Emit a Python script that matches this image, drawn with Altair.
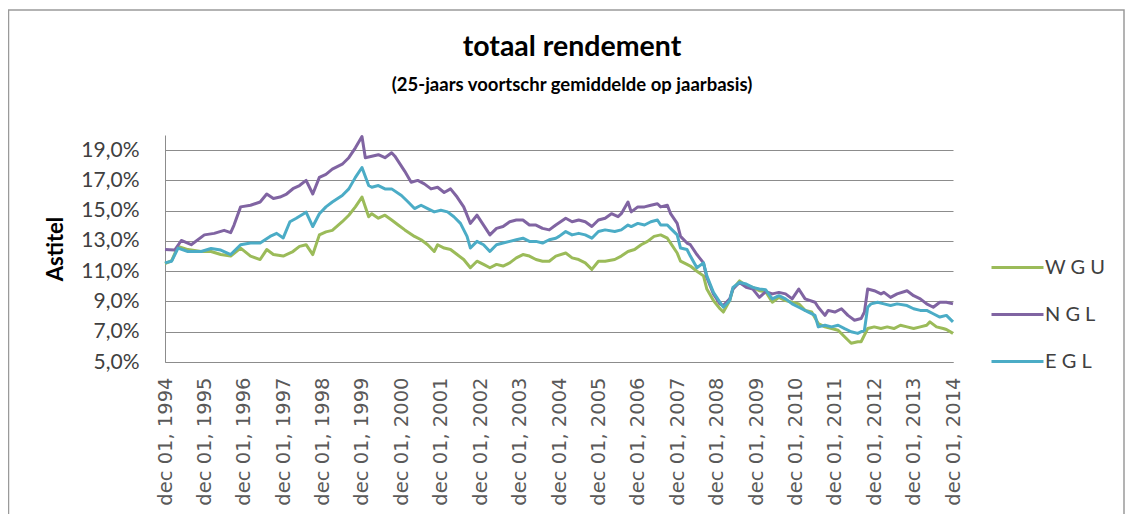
import altair as alt
import pandas as pd

# month offsets from dec 1994, values in %
wgu_month = [0, 2, 4, 7, 11, 14, 17, 20, 23, 26, 29, 31, 33, 36, 39, 41, 43, 45, 47, 49, 51, 54, 56, 58, 60, 62,
             63, 65, 67, 69, 71, 73, 76, 78, 80, 82, 83, 85, 87, 89, 91, 93, 95, 97, 99, 101, 103, 105, 107, 109,
             111, 113, 115, 117, 119, 122, 124, 126, 128, 130, 132, 134, 137, 139, 141, 143, 145, 147, 149, 151,
             153, 154, 156, 157, 159, 160, 162, 164, 165, 167, 169, 170, 172, 173, 175, 177, 179, 181, 183, 185,
             187, 189, 191, 193, 195, 197, 199, 201, 203, 205, 207, 209, 211, 212, 214, 216, 218, 220, 222, 224,
             226, 228, 230, 232, 233, 235, 237, 238, 240]
wgu_value = [11.5, 11.7, 12.64, 12.43, 12.3, 12.3, 12.1, 12.0, 12.53, 12.0, 11.77, 12.43, 12.1, 12.0, 12.3, 12.64,
             12.75, 12.1, 13.4, 13.6, 13.7, 14.27, 14.7, 15.25, 15.9, 14.6,
             14.8, 14.5, 14.7, 14.38, 14.05, 13.73, 13.3, 13.08, 12.75, 12.3, 12.75, 12.53, 12.43, 12.1, 11.77,
             11.23, 11.66, 11.45, 11.23, 11.45, 11.34, 11.55, 11.88, 12.1,
             12.0, 11.77, 11.66, 11.66, 12.0, 12.2, 11.88, 11.77, 11.55, 11.12, 11.66, 11.66, 11.77, 12.0, 12.3,
             12.43, 12.75, 12.97, 13.3, 13.4,
             13.18, 12.86, 12.2, 11.66, 11.45, 11.34, 11.0, 10.69, 9.82, 9.06, 8.52, 8.3, 9.06, 9.82, 10.36, 10.04,
             9.93, 9.71, 9.65, 8.95,
             9.27, 9.06, 8.95, 8.84, 8.41, 8.3, 7.54, 7.32, 7.21, 7.1, 6.67, 6.24, 6.34, 6.34, 7.21, 7.32, 7.21,
             7.32, 7.21, 7.43,
             7.32, 7.21, 7.32, 7.43, 7.65, 7.32, 7.21, 7.15, 6.89]

ngl_month = [0, 3, 5, 8, 12, 15, 18, 20, 21, 23, 26, 29, 31, 33, 35, 37, 39, 41, 43, 45, 47, 49, 51, 54, 56, 58,
             60, 61, 63, 65, 67, 69, 70, 73, 75, 77, 79, 81, 83, 85, 87, 89, 91, 93, 95, 97, 99, 101, 103, 105,
             107, 109, 111, 113, 115, 117, 119, 122, 124, 126, 128, 130, 132, 134, 136, 138, 139, 141, 142, 144,
             146, 148, 150, 151, 153, 154, 156, 157, 159, 160, 162, 164, 165, 167, 169, 170, 172, 173, 175, 177,
             179, 181, 183, 185, 187, 189, 191, 193, 195, 198, 199, 201, 202, 204, 206, 208, 210, 212, 213, 214,
             216, 218, 219, 221, 223, 226, 228, 230, 232, 234, 236, 238, 240]
ngl_value = [12.43, 12.4, 13.03, 12.75, 13.4, 13.5, 13.7, 13.55, 14.05, 15.25, 15.36, 15.57, 16.1, 15.8, 15.9,
             16.1, 16.45, 16.66, 17.0, 16.1, 17.2, 17.4, 17.74, 18.07, 18.5, 19.15,
             19.9, 18.5, 18.6, 18.7, 18.5, 18.83, 18.6, 17.6, 16.88, 17.0, 16.77, 16.44, 16.55, 16.2, 16.44, 15.9,
             15.25, 14.16, 14.7, 14.05, 13.4, 13.83, 13.95, 14.27,
             14.38, 14.38, 14.05, 14.05, 13.83, 13.73, 14.05, 14.5, 14.27, 14.38, 14.27, 13.95, 14.38, 14.5, 14.8,
             14.6, 14.8, 15.57, 14.92, 15.25,
             15.25, 15.36, 15.46, 15.25, 15.36, 14.8, 14.16, 13.3, 12.86, 12.75, 12.1, 11.55, 10.58, 9.5, 8.84,
             8.73, 9.17, 9.82, 10.25, 9.93,
             9.82, 9.27, 9.65, 9.5, 9.6, 9.5, 9.17, 9.82, 9.17, 8.95, 8.62, 8.08, 8.41, 8.3, 8.52, 8.08, 7.76,
             7.87, 8.3, 9.82,
             9.71, 9.5, 9.6, 9.27, 9.5, 9.71, 9.38, 9.17, 8.84, 8.62, 8.95, 8.95, 8.84]

egl_month = [0, 2, 4, 7, 11, 14, 17, 20, 23, 26, 29, 32, 34, 36, 38, 40, 43, 45, 47, 49, 51, 54, 56, 58, 60, 62,
             63, 65, 67, 69, 72, 74, 76, 78, 80, 82, 84, 86, 88, 90, 92, 93, 95, 97, 99, 101, 103, 105, 107, 109,
             111, 113, 115, 117, 119, 120, 122, 124, 126, 128, 130, 132, 134, 137, 139, 141, 142, 144, 146, 148,
             150, 151, 153, 154, 156, 157, 159, 160, 162, 164, 165, 167, 169, 170, 172, 173, 175, 177, 179, 181,
             183, 185, 187, 189, 191, 193, 196, 198, 199, 201, 203, 205, 207, 209, 211, 213, 214, 215, 217, 219,
             221, 223, 226, 228, 230, 232, 234, 236, 238, 240]
egl_value = [11.55, 11.66, 12.53, 12.3, 12.3, 12.5, 12.4, 12.1, 12.75, 12.86, 12.86, 13.3, 13.5, 13.2, 14.27,
             14.5, 14.9, 13.95, 14.8, 15.25, 15.57, 16.0, 16.44, 17.2, 17.85, 16.66,
             16.55, 16.66, 16.44, 16.44, 16.0, 15.57, 15.14, 15.36, 15.14, 14.92, 15.03, 14.92, 14.6, 14.16, 13.3,
             12.53, 12.97, 12.75, 12.3, 12.75, 12.86, 12.97, 13.08, 13.18,
             12.97, 12.97, 12.86, 13.08, 13.18, 13.3, 13.62, 13.4, 13.5, 13.4, 13.18, 13.62, 13.73, 13.62, 13.73,
             14.05, 13.95, 14.16, 14.05, 14.27,
             14.38, 14.05, 14.05, 13.83, 13.4, 12.53, 12.43, 12.0, 11.23, 11.55, 10.69, 9.6, 8.95, 8.62, 9.06,
             9.93, 10.25, 10.15, 9.93, 9.82,
             9.77, 9.17, 9.38, 9.17, 8.84, 8.62, 8.3, 8.08, 7.32, 7.43, 7.32, 7.43, 7.21, 7.0, 6.89, 7.1, 8.62,
             8.84, 8.95, 8.84,
             8.73, 8.84, 8.73, 8.52, 8.41, 8.41, 8.19, 7.97, 8.08, 7.65]

series_names = ["W G U", "N G L", "E G L"]
series_colors = ["#9BBB59", "#8064A2", "#4BACC6"]
tick_years = list(range(1994, 2015))
y_ticks = [5, 7, 9, 11, 13, 15, 17, 19]


def to_date(m):
    y = 1994 + (11 + m) // 12
    mo = (11 + m) % 12 + 1
    return f"{y:04d}-{mo:02d}-01"


rows = []
for name, months, values in zip(series_names,
                                [wgu_month, ngl_month, egl_month],
                                [wgu_value, ngl_value, egl_value]):
    for m, v in zip(months, values):
        rows.append({"series": name, "date": to_date(m), "value": v, "order": series_names.index(name)})
df = pd.DataFrame(rows)

GRID = "#8c8c8c"

lines = alt.Chart(df).mark_line(strokeWidth=3, strokeJoin="round").encode(
    x=alt.X(
        "date:T",
        scale=alt.Scale(type="utc", domain=[alt.DateTime(year=1994, month=12, date=1, utc=True),
                                            alt.DateTime(year=2014, month=12, date=1, utc=True)]),
        axis=alt.Axis(
            values=[alt.DateTime(year=y, month=12, date=1, utc=True) for y in tick_years],
            labelExpr="'dec ' + utcFormat(datum.value, '%d, %Y')",
            labelAngle=270,
            labelFont="DejaVu Sans",
            labelFontSize=19.5,
            labelColor="#595959",
            labelPadding=15,
            labelOverlap=False,
            labelFlush=False,
            ticks=False,
            grid=False,
            domain=True,
            domainColor=GRID,
            title=None,
        ),
    ),
    y=alt.Y(
        "value:Q",
        scale=alt.Scale(domain=[5, 20], nice=False, zero=False),
        axis=alt.Axis(
            values=y_ticks,
            labelExpr="replace(format(datum.value, '.1f'), '.', ',') + '%'",
            labelFont="Lato",
            labelFontSize=21,
            labelColor="#404040",
            labelPadding=26,
            ticks=False,
            grid=True,
            gridColor=GRID,
            gridWidth=1,
            domain=True,
            domainColor=GRID,
            title="Astitel",
            titleFont="Lato",
            titleFontSize=22,
            titleFontWeight="bold",
            titleColor="#000000",
            titleAngle=270,
            titleX=-110,
            titleY=113.5,
            titleAlign="center",
            titleBaseline="middle",
        ),
    ),
    color=alt.Color(
        "series:N",
        scale=alt.Scale(domain=series_names, range=series_colors),
        legend=alt.Legend(
            title=None,
            orient="none",
            legendX=825,
            legendY=105,
            symbolType="stroke",
            symbolStrokeWidth=3,
            symbolSize=2704,
            labelFont="Lato",
            labelFontSize=20,
            labelColor="#404040",
            labelOffset=0,
            rowPadding=9,
        ),
    ),
    order="order:Q",
)

frame = alt.Chart(pd.DataFrame({"a": [0]})).mark_rect(
    fill="transparent", stroke="#9a9a9a", strokeWidth=1.5
).encode(
    x=alt.value(-156.5), x2=alt.value(959), y=alt.value(-125), y2=alt.value(420)
)

chart = alt.layer(frame, lines).properties(
    width=788,
    height=227,
    autosize="none",
    padding={"left": 157, "top": 127, "right": 172, "bottom": 152},
    background="white",
    title=alt.Title(
        "totaal rendement",
        subtitle="(25-jaars voortschr gemiddelde op jaarbasis)",
        font="Lato",
        fontSize=28.5,
        fontWeight="bold",
        color="#000000",
        subtitleFont="Lato",
        subtitleFontSize=18.5,
        subtitleFontWeight="bold",
        subtitleColor="#000000",
        subtitlePadding=14,
        anchor="middle",
        frame="group",
        dx=13,
        dy=121,
        offset=36,
    ),
).configure_view(stroke=None)

chart.save("out.html", embed_options={"renderer": "svg", "actions": False})
